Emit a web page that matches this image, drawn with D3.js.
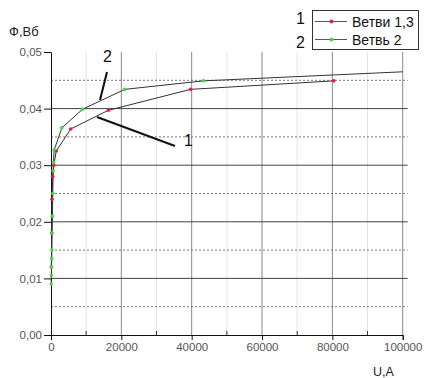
<!DOCTYPE html>
<html>
<head>
<meta charset="utf-8">
<script src="https://cdn.jsdelivr.net/npm/d3@7"></script>
<style>
  body { margin: 0; background: #fff; }
  svg { font-family: "Liberation Sans", Arial, sans-serif; }
</style>
</head>
<body>
<svg id="chart"></svg>
<script>
// --------------------- data --------------------------
// branch 1,3 (red markers)
const branch13_U = [100, 200, 300, 500, 800, 1500, 5600, 16300, 39700, 80400];
const branch13_F = [0.012, 0.018, 0.024, 0.028, 0.030, 0.0325, 0.0364, 0.0397, 0.0434, 0.0449];
// branch 2 (green markers)
const branch2_U = [50, 100, 150, 200, 250, 300, 400, 500, 600, 700, 900, 3100, 9000, 21000, 43300, 100000];
const branch2_F = [0.009, 0.0105, 0.012, 0.0135, 0.015, 0.018, 0.021, 0.025, 0.029, 0.0305, 0.0327, 0.0366, 0.0399, 0.0434, 0.0449, 0.0465];

const xTicks = [0, 20000, 40000, 60000, 80000, 100000];
const xMinor = [10000, 30000, 50000, 70000, 90000];
const yTicks = [0, 0.01, 0.02, 0.03, 0.04, 0.05];
const yMinor = [0.005, 0.015, 0.025, 0.035, 0.045];
const legendLabels = ["Ветви 1,3", "Ветвь 2"];
const legendNums = ["1", "2"];

// --------------------- setup --------------------------
const width = 424, height = 378;
const padLeft = 51, padRight = 402.7, padTop = 52, padBottom = 335;

const svg = d3.select("#chart")
  .attr("width", width)
  .attr("height", height);

const xScale = d3.scaleLinear().domain([0, 100000]).range([padLeft, padRight]);
const yScale = d3.scaleLinear().domain([0, 0.05]).range([padBottom, padTop]);

// grid - minor vertical (light)
svg.append("g").selectAll("line").data(xMinor).join("line")
  .attr("x1", d => xScale(d)).attr("x2", d => xScale(d))
  .attr("y1", padTop).attr("y2", padBottom)
  .attr("stroke", "#e4e4e4");

// grid - major vertical
svg.append("g").selectAll("line").data(xTicks.slice(1)).join("line")
  .attr("x1", d => xScale(d)).attr("x2", d => xScale(d))
  .attr("y1", padTop).attr("y2", padBottom)
  .attr("stroke", "#888");

// grid - minor horizontal (dotted)
svg.append("g").selectAll("line").data(yMinor).join("line")
  .attr("x1", padLeft).attr("x2", padRight + 5)
  .attr("y1", d => yScale(d)).attr("y2", d => yScale(d))
  .attr("stroke", "#777")
  .attr("stroke-dasharray", "2,2");

// grid - major horizontal
svg.append("g").selectAll("line").data(yTicks.slice(1, 5)).join("line")
  .attr("x1", padLeft).attr("x2", padRight + 5)
  .attr("y1", d => yScale(d)).attr("y2", d => yScale(d))
  .attr("stroke", "#444");

// axes
const fmt = d => d3.format(".2f")(d).replace(".", ",");

const yAxis = svg.append("g")
  .attr("transform", "translate(" + padLeft + ",0)")
  .call(d3.axisLeft(yScale).tickValues(yTicks).tickFormat(fmt).tickSize(7).tickPadding(2));

const xAxis = svg.append("g")
  .attr("transform", "translate(0," + padBottom + ")")
  .call(d3.axisBottom(xScale).tickValues(xTicks).tickFormat(d3.format("d")).tickSize(5).tickPadding(3));

// minor x ticks pointing up
svg.append("g").selectAll("line").data(xMinor).join("line")
  .attr("x1", d => xScale(d)).attr("x2", d => xScale(d))
  .attr("y1", padBottom).attr("y2", padBottom - 4)
  .attr("stroke", "#333");

[yAxis, xAxis].forEach(a => {
  a.select(".domain").attr("stroke", "#111");
  a.selectAll(".tick line").attr("stroke", "#111");
  a.selectAll(".tick text")
    .attr("fill", "#555")
    .style("font-size", "11.5px")
    .style("font-family", "Liberation Sans, Arial, sans-serif");
});

// axis titles
svg.append("text")
  .attr("x", 9).attr("y", 36)
  .style("font-size", "13px").attr("fill", "#222")
  .text("Ф,Вб");

svg.append("text")
  .attr("x", 373).attr("y", 376)
  .style("font-size", "12.5px").attr("fill", "#222")
  .text("U,A");

// ---------------------- curves ---------------------------
const series = [
  { U: branch13_U, F: branch13_F, color: "#e3203c" },
  { U: branch2_U, F: branch2_F, color: "#3fd83f" }
];

const line = d3.line()
  .x(d => xScale(d[0]))
  .y(d => yScale(d[1]));

series.forEach(s => {
  const pts = s.U.map((u, i) => [u, s.F[i]]);
  svg.append("path")
    .datum(pts)
    .attr("d", line)
    .attr("fill", "none")
    .attr("stroke", "#333")
    .attr("stroke-width", 1);
});

series.forEach(s => {
  const pts = s.U.map((u, i) => [u, s.F[i]]);
  svg.append("g").selectAll("circle").data(pts.filter(p => p[0] < 100000)).join("circle")
    .attr("cx", d => xScale(d[0]))
    .attr("cy", d => yScale(d[1]))
    .attr("r", 1.8)
    .attr("fill", s.color);
});

// ---------------------- annotations ---------------------------
svg.append("line")
  .attr("x1", 107).attr("y1", 72).attr("x2", 100).attr("y2", 100)
  .attr("stroke", "#111").attr("stroke-width", 2);
svg.append("text")
  .attr("x", 103).attr("y", 62)
  .style("font-size", "16px").attr("fill", "#111")
  .text("2");

svg.append("line")
  .attr("x1", 97).attr("y1", 117).attr("x2", 175).attr("y2", 146)
  .attr("stroke", "#111").attr("stroke-width", 2);
svg.append("text")
  .attr("x", 184).attr("y", 146)
  .style("font-size", "16px").attr("fill", "#111")
  .text("1");

// ---------------------- legend ---------------------------
const legend = svg.append("g");
legend.append("rect")
  .attr("x", 312.5).attr("y", 10.5)
  .attr("width", 106).attr("height", 39)
  .attr("fill", "#fff").attr("stroke", "#333");

series.forEach((s, i) => {
  const ly = 21.5 + i * 18;
  legend.append("line")
    .attr("x1", 315).attr("x2", 347)
    .attr("y1", ly).attr("y2", ly)
    .attr("stroke", "#555");
  legend.append("circle")
    .attr("cx", 331.5).attr("cy", ly).attr("r", 2)
    .attr("fill", s.color);
  legend.append("text")
    .attr("x", 352).attr("y", ly + 5)
    .style("font-size", "14px").attr("fill", "#111")
    .text(legendLabels[i]);
  legend.append("text")
    .attr("x", 296).attr("y", ly + (i === 0 ? 2 : 8))
    .style("font-size", "16px").attr("fill", "#111")
    .text(legendNums[i]);
});
</script>
</body>
</html>
